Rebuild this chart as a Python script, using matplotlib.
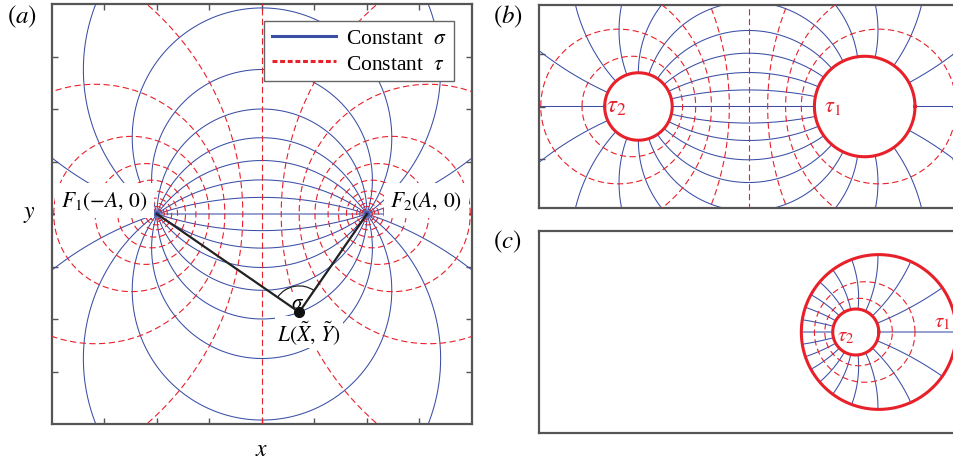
import numpy as np
import matplotlib.pyplot as plt
from matplotlib.lines import Line2D
from matplotlib.patches import Arc

plt.rcParams['font.family'] = ['Liberation Serif', 'DejaVu Serif']
plt.rcParams['mathtext.fontset'] = 'stix'
plt.rcParams['lines.scale_dashes'] = False

A = 1.0  # half distance between the foci

# constant sigma lines (degrees) and constant tau lines
sigma_deg = [0, 18, 36, 54, 72, 90, 108, 126, 144, 162,
             180, 198, 216, 234, 252, 270, 288, 306, 324, 342]
tau_vals = [-3.7, -3.33, -2.96, -2.59, -2.22, -1.85, -1.48, -1.11, -0.74, -0.37, 0.0,
            0.37, 0.74, 1.11, 1.48, 1.85, 2.22, 2.59, 2.96, 3.33, 3.7]

# boundary circles (tau2, tau1) of panels b and c
tau_b = [-1.85, 1.48]
tau_c = [2.22, 1.11]

L_point = (0.354, -0.935)
F1 = (-1.0, 0.0)
F2 = (1.0, 0.0)

ticks_a = [-1.5, -1.0, -0.5, 0.0, 0.5, 1.0, 1.5]
ticks_b = [-0.5, 0.0, 0.5]

blue = '#3a4ea5'
red = '#e8202a'
frame = '#555555'
dash = (0, (4.5, 2.5))


def bipolar(sig, tau):
    d = np.cosh(tau) - np.cos(sig)
    with np.errstate(divide='ignore', invalid='ignore'):
        x = A * np.sinh(tau) / d
        y = A * np.sin(sig) / d
    bad = ~np.isfinite(x) | ~np.isfinite(y) | (np.abs(x) > 30) | (np.abs(y) > 30)
    x = np.where(bad, np.nan, x)
    y = np.where(bad, np.nan, y)
    return x, y


def draw_grid(ax, t_lo, t_hi):
    tt = np.linspace(t_lo, t_hi, 6001)
    for s in sigma_deg:
        x, y = bipolar(np.radians(s), tt)
        ax.plot(x, y, color=blue, lw=0.75, zorder=2)
    ss = np.linspace(0, 2 * np.pi, 721)
    for t in tau_vals:
        if t_lo < t < t_hi:
            x, y = bipolar(ss, t)
            ax.plot(x, y, color=red, lw=0.8, ls=dash, zorder=3)


def style_frame(ax):
    for sp in ax.spines.values():
        sp.set_color(frame)
        sp.set_linewidth(1.6)
    ax.set_xlim(-2, 2)


fig = plt.figure(figsize=(9.54, 4.6), dpi=100)

# ---------------- (a) ----------------
ax = fig.add_axes([52 / 954, 35 / 460, 420 / 954, 420 / 460])
draw_grid(ax, -12.5, 12.5)
style_frame(ax)
ax.set_ylim(-2, 2)
ax.set_xticks(ticks_a)
ax.set_yticks(ticks_a)
ax.tick_params(direction='in', length=4, width=1, color=frame,
               top=True, right=True, labelbottom=False, labelleft=False)
ax.set_xlabel('$x$', fontsize=17, labelpad=11)
ax.set_ylabel('$y$', fontsize=17, rotation=0, labelpad=16, va='center')

# triangle F1 - L - F2
ax.plot([F1[0], L_point[0], F2[0]], [F1[1], L_point[1], F2[1]],
        color='#222222', lw=1.6, zorder=5)
ax.plot(*L_point, 'o', color='#111111', ms=7, zorder=6)
a1 = np.degrees(np.arctan2(F2[1] - L_point[1], F2[0] - L_point[0]))
a2 = np.degrees(np.arctan2(F1[1] - L_point[1], F1[0] - L_point[0]))
ax.add_patch(Arc(L_point, 0.5, 0.5, theta1=a1, theta2=a2, color='#222222', lw=0.9, zorder=5))

box = dict(boxstyle='square,pad=0.3', fc='white', ec='none')
ax.text(-1.5, 0.13, r'$F_1(-A,\,0)$', fontsize=15.5, ha='center', va='center', bbox=box, zorder=4)
ax.text(1.565, 0.13, r'$F_2(A,\,0)$', fontsize=15.5, ha='center', va='center', bbox=box, zorder=4)
ax.text(0.445, -1.12, r'$L(\tilde{X},\,\tilde{Y})$', fontsize=15.5, ha='center', va='center',
        bbox=dict(boxstyle='square,pad=0.1', fc='white', ec='none'), zorder=4)
ax.text(0.335, -0.84, r'$\sigma$', fontsize=15, ha='center', va='center',
        bbox=dict(boxstyle='square,pad=0.02', fc='white', ec='none'), zorder=4)

handles = [Line2D([], [], color=blue, lw=2.2),
           Line2D([], [], color=red, lw=2.2, ls=(0, (3.5, 2)))]
leg = ax.legend(handles, [r'Constant  $\sigma$', r'Constant  $\tau$'], fontsize=15.5,
                loc='upper right', bbox_to_anchor=(0.957, 0.96), borderaxespad=0,
                fancybox=False, framealpha=1, edgecolor='#666666',
                handlelength=3.0, handletextpad=0.45, labelspacing=0.25, borderpad=0.35)
leg.get_frame().set_linewidth(1.0)
leg.set_zorder(10)

# ---------------- (b) ----------------
bx = fig.add_axes([539 / 954, 251 / 460, 419 / 954, 203 / 460])
draw_grid(bx, tau_b[0], tau_b[1])
ss = np.linspace(0, 2 * np.pi, 721)
for t in tau_b:
    x, y = bipolar(ss, t)
    bx.plot(x, y, color=red, lw=2.2, zorder=4)
style_frame(bx)
bx.set_ylim(-0.97, 0.97)
bx.set_xticks([])
bx.set_yticks(ticks_b)
bx.tick_params(direction='in', length=4, width=1, color=frame, right=True,
               labelleft=False)
bx.text(-1.26, 0.0, r'$\tau_2$', color=red, fontsize=18, ha='center', va='center')
bx.text(0.80, 0.0, r'$\tau_1$', color=red, fontsize=16, ha='center', va='center')

# ---------------- (c) ----------------
cx = fig.add_axes([539 / 954, 26 / 460, 419 / 954, 202 / 460])
draw_grid(cx, tau_c[1], tau_c[0])
for t in tau_c:
    x, y = bipolar(ss, t)
    cx.plot(x, y, color=red, lw=2.2, zorder=4)
style_frame(cx)
cx.set_ylim(-0.965, 0.965)
cx.set_xticks([])
cx.set_yticks([])
cx.text(0.93, -0.04, r'$\tau_2$', color=red, fontsize=15, ha='center', va='center')
cx.text(1.85, 0.10, r'$\tau_1$', color=red, fontsize=15, ha='center', va='center')

# panel letters
fig.text(7 / 954, 1 - 4 / 460, '$(a)$', fontsize=18, ha='left', va='top')
fig.text(493 / 954, 1 - 4 / 460, '$(b)$', fontsize=18, ha='left', va='top')
fig.text(493 / 954, 1 - 229 / 460, '$(c)$', fontsize=18, ha='left', va='top')

fig.savefig('out.png', dpi=100)
